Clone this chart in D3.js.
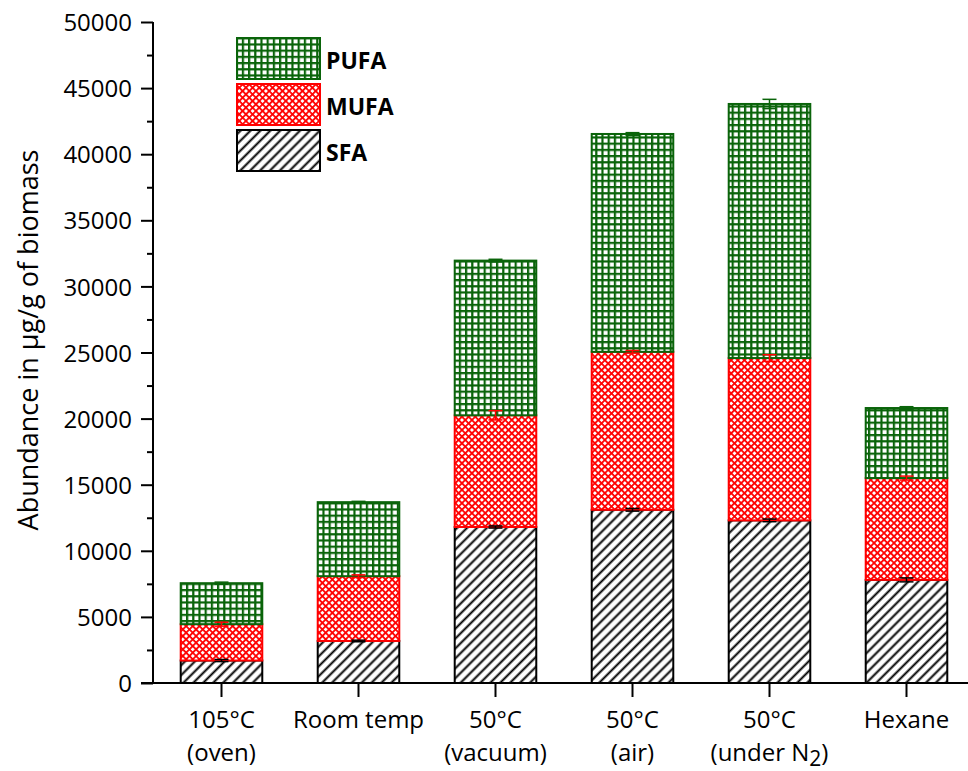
<!DOCTYPE html>
<html>
<head>
<meta charset="utf-8">
<script src="https://cdn.jsdelivr.net/npm/d3@7"></script>
<style>
  html, body { margin: 0; padding: 0; background: #fff; }
  svg { display: block; }
  text { font-family: "Open Sans", "Noto Sans", Lato, sans-serif; fill: #000; }
</style>
</head>
<body>
<svg id="chart" width="968" height="771"></svg>
<script>
// Categories (two-line labels) and stacked fatty-acid abundances in µg/g of biomass
const categories = ["105°C|(oven)", "Room temp|", "50°C|(vacuum)", "50°C|(air)", "50°C|(under N2)", "Hexane|"];
const sfa  = [1700, 3180, 11800, 13100, 12300, 7800];
const mufa = [2750, 4900, 8450, 11950, 12280, 7700];
const pufa = [3100, 5600, 11700, 16480, 19220, 5300];
const sfaErr  = [80, 60, 80, 100, 100, 150];
const mufaErr = [150, 100, 350, 100, 250, 150];
const pufaErr = [80, 60, 100, 100, 350, 100];
const yTicks = [0, 5000, 10000, 15000, 20000, 25000, 30000, 35000, 40000, 45000, 50000];
const yMinorTicks = [2500, 7500, 12500, 17500, 22500, 27500, 32500, 37500, 42500, 47500];

const seriesDefs = [
  { key: "SFA",  values: sfa,  err: sfaErr,  color: "#000000", fill: "url(#hatch-sfa)" },
  { key: "MUFA", values: mufa, err: mufaErr, color: "#ff0000", fill: "url(#hatch-mufa)" },
  { key: "PUFA", values: pufa, err: pufaErr, color: "#0a640a", fill: "url(#hatch-pufa)" }
];

const svg = d3.select("#chart");
const margin = { left: 153, top: 22, bottom: 683, right: 975 };

const x = d3.scaleBand().domain(categories).range([margin.left, margin.right]).paddingInner(0.39).paddingOuter(0.195);
const y = d3.scaleLinear().domain([0, 50000]).range([margin.bottom, margin.top]);

// Fill patterns
const defs = svg.append("defs");
const pSfa = defs.append("pattern").attr("id", "hatch-sfa").attr("patternUnits", "userSpaceOnUse")
  .attr("width", 7).attr("height", 7).attr("patternTransform", "rotate(45)");
pSfa.append("rect").attr("width", 7).attr("height", 7).attr("fill", "#fff");
pSfa.append("line").attr("x1", 3.5).attr("x2", 3.5).attr("y1", 0).attr("y2", 7)
  .attr("stroke", "#000").attr("stroke-width", 2);

const pMufa = defs.append("pattern").attr("id", "hatch-mufa").attr("patternUnits", "userSpaceOnUse")
  .attr("width", 4.7).attr("height", 4.7).attr("patternTransform", "rotate(45)");
pMufa.append("rect").attr("width", 4.7).attr("height", 4.7).attr("fill", "#fff");
pMufa.append("line").attr("x1", 0).attr("x2", 4.7).attr("y1", 0.9).attr("y2", 0.9)
  .attr("stroke", "#ff0000").attr("stroke-width", 1.8);
pMufa.append("line").attr("x1", 0.9).attr("x2", 0.9).attr("y1", 0).attr("y2", 4.7)
  .attr("stroke", "#ff0000").attr("stroke-width", 1.8);

const pPufa = defs.append("pattern").attr("id", "hatch-pufa").attr("patternUnits", "userSpaceOnUse")
  .attr("width", 6.2).attr("height", 6.2);
pPufa.append("rect").attr("width", 6.2).attr("height", 6.2).attr("fill", "#fff");
pPufa.append("line").attr("x1", 0).attr("x2", 6.2).attr("y1", 1.1).attr("y2", 1.1)
  .attr("stroke", "#0a640a").attr("stroke-width", 2.2);
pPufa.append("line").attr("x1", 1.1).attr("x2", 1.1).attr("y1", 0).attr("y2", 6.2)
  .attr("stroke", "#0a640a").attr("stroke-width", 2.2);

// Stack the series
const rows = categories.map((c, i) => {
  const r = { cat: c };
  seriesDefs.forEach(s => { r[s.key] = s.values[i]; });
  return r;
});
const stacked = d3.stack().keys(seriesDefs.map(s => s.key))(rows);

stacked.forEach((layer, li) => {
  const s = seriesDefs[li];
  const g = svg.append("g");
  g.selectAll("rect").data(layer).join("rect")
    .attr("x", d => x(d.data.cat) + 1)
    .attr("width", x.bandwidth() - 2)
    .attr("y", d => y(d[1]))
    .attr("height", d => y(d[0]) - y(d[1]))
    .attr("fill", s.fill)
    .attr("stroke", s.color)
    .attr("stroke-width", 2);
});

// Error bars at the top of each segment
stacked.forEach((layer, li) => {
  const s = seriesDefs[li];
  const g = svg.append("g").attr("stroke", s.color).attr("stroke-width", 1.5);
  layer.forEach((d, i) => {
    const cx = x(d.data.cat) + x.bandwidth() / 2;
    const top = y(d[1] + s.err[i]);
    const bot = y(d[1] - s.err[i]);
    g.append("line").attr("x1", cx).attr("x2", cx).attr("y1", top).attr("y2", bot);
    g.append("line").attr("x1", cx - 7).attr("x2", cx + 7).attr("y1", top).attr("y2", top);
    g.append("line").attr("x1", cx - 7).attr("x2", cx + 7).attr("y1", bot).attr("y2", bot);
  });
});

// Y axis
const yAxis = svg.append("g").attr("transform", `translate(${margin.left},0)`)
  .call(d3.axisLeft(y).tickValues(yTicks).tickSize(12).tickPadding(9).tickFormat(d3.format("d")));
yAxis.selectAll("text").style("font-size", "24px").attr("dy", "0.36em");
yAxis.select(".domain").attr("stroke-width", 2).attr("d", `M0,${margin.bottom}V${margin.top}`);
yAxis.selectAll(".tick line").attr("stroke-width", 2);
svg.append("g").attr("transform", `translate(${margin.left},0)`)
  .call(d3.axisLeft(y).tickValues(yMinorTicks).tickSize(6).tickFormat(""))
  .call(g => g.select(".domain").remove())
  .selectAll(".tick line").attr("stroke-width", 2);

// X axis
const xAxis = svg.append("g").attr("transform", `translate(0,${margin.bottom})`)
  .call(d3.axisBottom(x).tickSize(14).tickFormat(""));
xAxis.select(".domain").attr("stroke-width", 2).attr("d", `M141,0H968`);
xAxis.selectAll(".tick line").attr("stroke-width", 2);

const labelG = svg.append("g").style("font-size", "24px").attr("text-anchor", "middle");
categories.forEach(c => {
  const [l1, l2] = c.split("|");
  const cx = x(c) + x.bandwidth() / 2;
  labelG.append("text").attr("x", cx).attr("y", 728).text(l1);
  if (l2) {
    const t = labelG.append("text").attr("x", cx).attr("y", 761);
    if (l2.includes("N2")) {
      t.append("tspan").text("(under N");
      t.append("tspan").attr("dy", 5).style("font-size", "21px").text("2");
      t.append("tspan").attr("dy", -5).text(")");
    } else {
      t.text(l2);
    }
  }
});

// Y axis title
svg.append("text")
  .attr("transform", "translate(38,340) rotate(-90)")
  .attr("text-anchor", "middle")
  .style("font-size", "27px")
  .text("Abundance in µg/g of biomass");

// Legend
const legend = svg.append("g");
const legendItems = seriesDefs.slice().reverse();
legendItems.forEach((s, i) => {
  const ly = 38 + i * 46;
  legend.append("rect").attr("x", 237).attr("y", ly).attr("width", 83).attr("height", 41)
    .attr("fill", s.fill).attr("stroke", s.color).attr("stroke-width", 2);
  legend.append("text").attr("x", 326).attr("y", ly + 31)
    .style("font-size", "23px").style("font-weight", "bold").text(s.key);
});
</script>
</body>
</html>
